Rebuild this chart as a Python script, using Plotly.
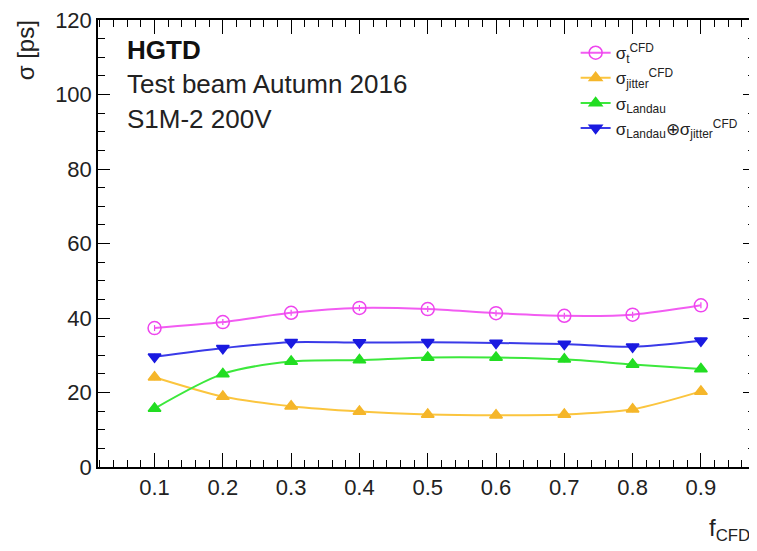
import plotly.graph_objects as go

f_cfd = [0.1, 0.2, 0.3, 0.4, 0.5, 0.6, 0.7, 0.8, 0.9]
sigma_t = [37.3, 38.9, 41.4, 42.7, 42.4, 41.3, 40.6, 40.9, 43.4]
sigma_jitter = [24.1, 18.9, 16.3, 14.9, 14.1, 13.9, 14.1, 15.5, 20.3]
sigma_landau = [15.7, 25.0, 28.3, 28.7, 29.4, 29.4, 28.9, 27.5, 26.3]
sigma_sum = [29.6, 31.9, 33.5, 33.4, 33.5, 33.3, 33.0, 32.3, 33.9]
errors = [0.8, 0.8, 0.8, 0.8, 0.8, 0.8, 0.8, 0.8, 0.8]

x_ticks = [0.1, 0.2, 0.3, 0.4, 0.5, 0.6, 0.7, 0.8, 0.9]
x_tick_labels = ["0.1", "0.2", "0.3", "0.4", "0.5", "0.6", "0.7", "0.8", "0.9"]

FONT = "Liberation Sans, Arial, sans-serif"

series = [
    ("σ<sub>t</sub><sup>CFD</sup>", sigma_t, "#f25cf2", "#ee44ee", "circle-open", 13),
    ("σ<sub>jitter</sub><sup>CFD</sup>", sigma_jitter, "#fbc53e", "#f5b62a", "triangle-up", 11),
    ("σ<sub>Landau</sub>", sigma_landau, "#3ce83c", "#22dd22", "triangle-up", 11),
    ("σ<sub>Landau</sub>⊕σ<sub>jitter</sub><sup>CFD</sup>", sigma_sum, "#3a3ae8", "#1a1ae0", "triangle-down", 11),
]

fig = go.Figure()
for name, vals, lc, mc, sym, sz in series:
    fig.add_trace(go.Scatter(
        x=f_cfd, y=vals, name=name, mode="lines+markers",
        line=dict(color=lc, width=2, shape="spline", smoothing=0.8),
        marker=dict(color=mc, symbol=sym, size=sz, line=dict(color=mc, width=1.5)),
        error_y=dict(type="data", array=errors, color=mc, thickness=1.2, width=0),
    ))

axis_common = dict(
    showline=True, linecolor="black", linewidth=1.5, mirror="ticks",
    ticks="inside", tickcolor="black", tickwidth=1.3,
    showgrid=False, zeroline=False, ticklabeloverflow="allow",
    tickfont=dict(family=FONT, size=22, color="#222222"),
)

fig.update_xaxes(
    range=[0.0172, 0.9792], tickvals=x_ticks, ticktext=x_tick_labels,
    ticklen=14,
    minor=dict(ticks="inside", dtick=0.02, tick0=0, ticklen=7, tickcolor="black", tickwidth=1.2),
    **axis_common,
)
fig.update_yaxes(
    range=[0, 120], dtick=20, tick0=0, ticklen=12,
    minor=dict(ticks="inside", dtick=5, tick0=0, ticklen=7, tickcolor="black", tickwidth=1.2),
    **axis_common,
)

# the page body has an 8px default margin, so the figure is sized to fit the window
fig.update_layout(
    width=749, height=543,
    margin=dict(l=90, r=0, t=9, b=84),
    paper_bgcolor="white", plot_bgcolor="white",
    font=dict(family=FONT, color="#222222"),
    showlegend=True,
    legend=dict(
        x=0.727, y=0.966, xanchor="left", yanchor="top",
        bgcolor="rgba(0,0,0,0)", borderwidth=0,
        font=dict(family=FONT, size=17, color="#222222"),
        itemwidth=30, tracegroupgap=2,
    ),
    annotations=[
        dict(text="<b>HGTD</b>", x=0.041, y=0.933, xref="paper", yref="paper",
             xanchor="left", yanchor="middle", showarrow=False,
             font=dict(family=FONT, size=26, color="#111111")),
        dict(text="Test beam Autumn 2016", x=0.041, y=0.856, xref="paper", yref="paper",
             xanchor="left", yanchor="middle", showarrow=False,
             font=dict(family=FONT, size=26, color="#222222")),
        dict(text="S1M-2 200V", x=0.041, y=0.778, xref="paper", yref="paper",
             xanchor="left", yanchor="middle", showarrow=False,
             font=dict(family=FONT, size=26, color="#222222")),
        dict(text="σ [ps]", x=-0.109, y=0.933, xref="paper", yref="paper",
             xanchor="center", yanchor="middle", showarrow=False, textangle=-90,
             font=dict(family=FONT, size=24, color="#222222")),
        dict(text="f<sub>CFD</sub>", x=0.995, y=-0.1, xref="paper", yref="paper",
             xanchor="right", yanchor="top", showarrow=False,
             font=dict(family=FONT, size=24, color="#222222")),
    ],
)

fig.write_html("out.html")
